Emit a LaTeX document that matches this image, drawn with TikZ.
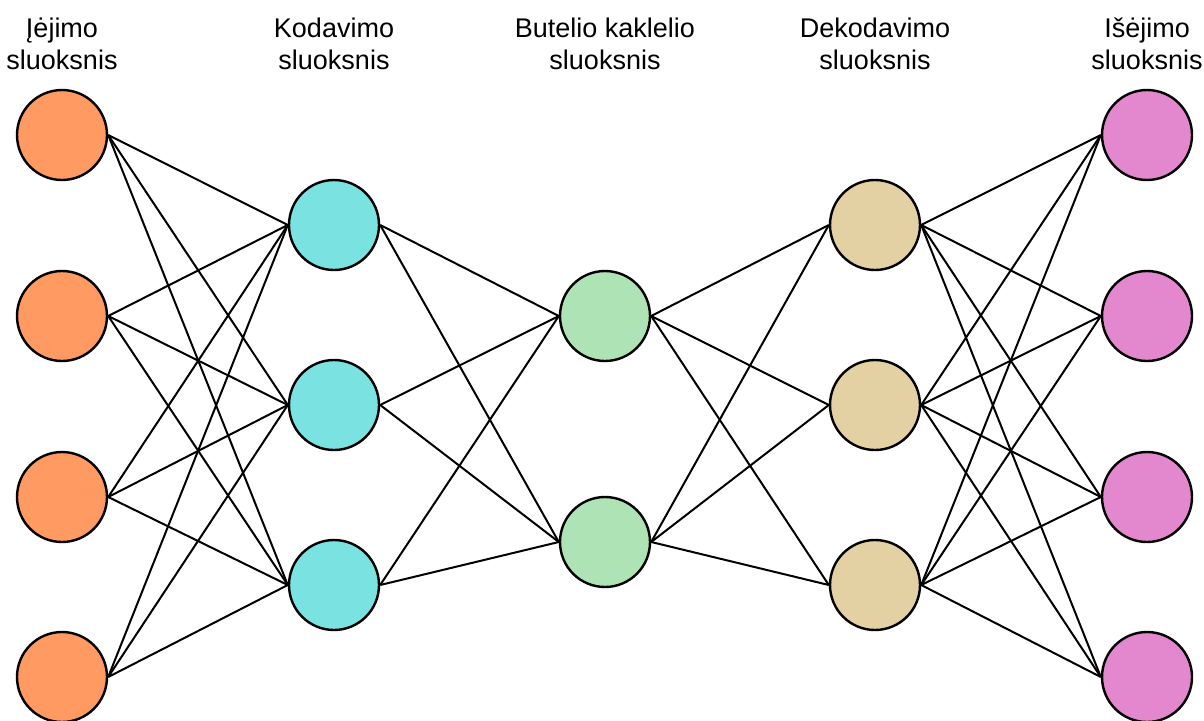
\documentclass[tikz,border=0pt]{standalone}
\usepackage{fontspec}
\setmainfont{Liberation Sans}
\definecolor{inputc}{HTML}{FF9A62}
\definecolor{encc}{HTML}{7AE2E0}
\definecolor{botc}{HTML}{AEE3B5}
\definecolor{decc}{HTML}{E3D0A3}
\definecolor{outc}{HTML}{E387CE}
\begin{document}
\begin{tikzpicture}[x=1pt,y=-1pt,
  neuron/.style={circle,draw=black,line width=2.4pt,minimum size=90pt,inner sep=0pt},
  link/.style={line width=2pt,black},
  title/.style={align=center,font=\fontsize{27}{32}\selectfont,inner sep=0pt,anchor=base}]
\useasboundingbox (0,0) rectangle (1204,720);

% layer titles (anchored on the baseline of the last line)
\node[title] (tin)  at (62,69)   {Įėjimo\\sluoksnis};
\node[title] (tenc) at (334,69)  {Kodavimo\\sluoksnis};
\node[title] (tbot) at (605,69)  {Butelio kaklelio\\sluoksnis};
\node[title] (tdec) at (875,69)  {Dekodavimo\\sluoksnis};
\node[title] (tout) at (1147,69) {Išėjimo\\sluoksnis};

% neurons
\foreach \i/\y in {1/135,2/316,3/497,4/677}
  \node[neuron,fill=inputc] (in\i) at (62,\y) {};
\foreach \i/\y in {1/225,2/405,3/585}
  \node[neuron,fill=encc] (enc\i) at (334,\y) {};
\foreach \i/\y in {1/316,2/542}
  \node[neuron,fill=botc] (bot\i) at (605,\y) {};
\foreach \i/\y in {1/225,2/405,3/585}
  \node[neuron,fill=decc] (dec\i) at (875,\y) {};
\foreach \i/\y in {1/135,2/316,3/497,4/677}
  \node[neuron,fill=outc] (out\i) at (1147,\y) {};

% fully connected links between consecutive layers
\foreach \a in {1,...,4} \foreach \b in {1,...,3}
  \draw[link] (in\a.east) -- (enc\b.west);
\foreach \a in {1,...,3} \foreach \b in {1,2}
  \draw[link] (enc\a.east) -- (bot\b.west);
\foreach \a in {1,2} \foreach \b in {1,...,3}
  \draw[link] (bot\a.east) -- (dec\b.west);
\foreach \a in {1,...,3} \foreach \b in {1,...,4}
  \draw[link] (dec\a.east) -- (out\b.west);
\end{tikzpicture}
\end{document}
